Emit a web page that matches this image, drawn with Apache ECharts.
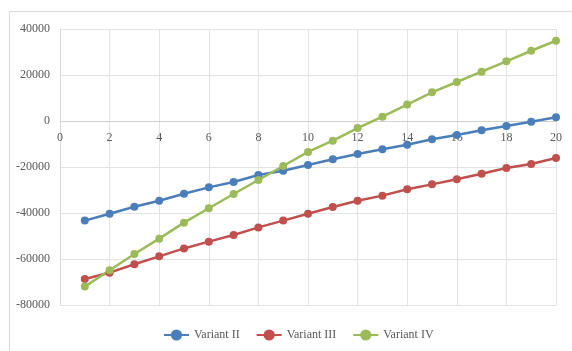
<!DOCTYPE html>
<html>
<head>
<meta charset="utf-8">
<script src="https://cdn.jsdelivr.net/npm/echarts@6/dist/echarts.min.js"></script>
<style>html,body{margin:0;padding:0;background:#fff}#c{width:572px;height:351px}</style>
</head>
<body>
<div id="c"></div>
<script>
var xValues = [1,2,3,4,5,6,7,8,9,10,11,12,13,14,15,16,17,18,19,20];
var variantII = [-43300,-40300,-37250,-34650,-31600,-28850,-26500,-23500,-21600,-19100,-16650,-14350,-12300,-10300,-7950,-6100,-4050,-2200,-300,1600];
var variantIII = [-68700,-65950,-62300,-58850,-55400,-52450,-49550,-46250,-43300,-40300,-37400,-34650,-32450,-29700,-27550,-25350,-22900,-20450,-18700,-16100];
var variantIV = [-72000,-64900,-57800,-51150,-44200,-37950,-31750,-25650,-19550,-13450,-8550,-3050,1900,7150,12450,16950,21450,25950,30550,34900];
var seriesNames = ['Variant II','Variant III','Variant IV'];
var colors = ['#4a7ebb','#c0504d','#9bbb59'];

function pairs(arr){ return arr.map(function(v,i){ return [xValues[i], v]; }); }
var allData = [variantII, variantIII, variantIV];

var yMin = -80000, yMax = 40000;
var gridTop = 29, gridBottom = 46, H = 351;
var plotH = H - gridTop - gridBottom;
var zeroOffset = (0 - yMin) / (yMax - yMin) * plotH;

var chart = echarts.init(document.getElementById('c'), null, {renderer:'canvas'});
var fontFam = '"Liberation Serif","Times New Roman",serif';
chart.setOption({
  animation:false,
  backgroundColor:'#fff',
  graphic:[{type:'rect', shape:{x:9.5,y:11.5,width:700,height:500}, style:{fill:'none',stroke:'#d9d9d9',lineWidth:1}, silent:true, z:-10}],
  grid:{left:60,right:16,top:gridTop,bottom:gridBottom},
  legend:{
    bottom:5, left:158,
    itemWidth:25, itemHeight:14, itemGap:16,
    textStyle:{color:'#595959', fontFamily:fontFam, fontSize:12},
    data:seriesNames
  },
  xAxis:{
    type:'value', min:0, max:20, interval:2,
    position:'bottom', offset:-zeroOffset,
    axisLine:{show:true, onZero:false, lineStyle:{color:'#d0d0d0'}},
    axisTick:{show:false},
    axisLabel:{color:'#595959', fontFamily:fontFam, fontSize:12, margin:11},
    splitLine:{show:true, lineStyle:{color:'#e3e3e3'}}
  },
  yAxis:{
    type:'value', min:yMin, max:yMax, interval:20000,
    axisLine:{show:true, onZero:false, lineStyle:{color:'#d9d9d9'}},
    axisTick:{show:false},
    axisLabel:{color:'#595959', fontFamily:fontFam, fontSize:12, margin:10, formatter:function(v){return String(v);}},
    splitLine:{show:true, lineStyle:{color:'#e3e3e3'}}
  },
  series: seriesNames.map(function(n,i){
    return {
      name:n, type:'line', data:pairs(allData[i]),
      symbol:'circle', symbolSize:8,
      itemStyle:{color:colors[i]},
      lineStyle:{color:colors[i], width:2.5}
    };
  })
});
</script>
</body>
</html>
